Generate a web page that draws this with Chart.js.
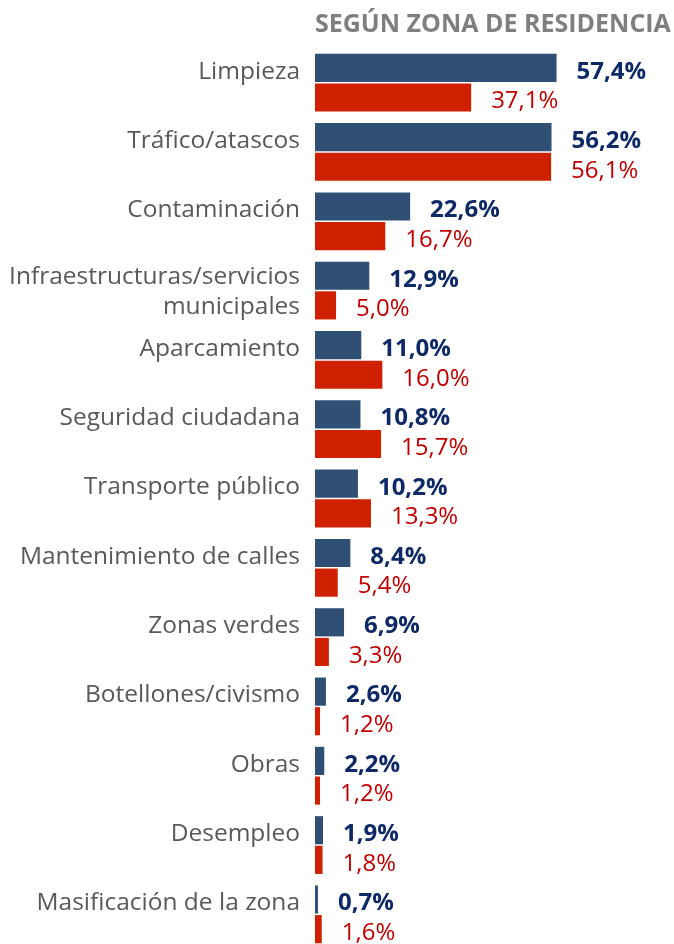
<!DOCTYPE html>
<html lang="es">
<head>
<meta charset="utf-8">
<title>Según zona de residencia</title>
<script src="https://cdn.jsdelivr.net/npm/chart.js@4/dist/chart.umd.min.js"></script>
<style>
    html, body { margin: 0; padding: 0; background: #fff; overflow: hidden; }
    #wrap { width: 674px; height: 950px; }
</style>
</head>
<body>
<div id="wrap"><canvas id="chart"></canvas></div>
<script>
// Problemas percibidos, dos grupos por zona de residencia (%)
const categories = [
    'Limpieza',
    'Tráfico/atascos',
    'Contaminación',
    ['Infraestructuras/servicios', 'municipales'],
    'Aparcamiento',
    'Seguridad ciudadana',
    'Transporte público',
    'Mantenimiento de calles',
    'Zonas verdes',
    'Botellones/civismo',
    'Obras',
    'Desempleo',
    'Masificación de la zona'
];
const blueValues = [57.4, 56.2, 22.6, 12.9, 11.0, 10.8, 10.2, 8.4, 6.9, 2.6, 2.2, 1.9, 0.7];
const redValues = [37.1, 56.1, 16.7, 5.0, 16.0, 15.7, 13.3, 5.4, 3.3, 1.2, 1.2, 1.8, 1.6];

const FONT = '"Open Sans", "DejaVu Sans", sans-serif';

// single-line labels get an empty second line so they sit near the upper bar
const tickLabels = categories.map(c => Array.isArray(c) ? c : [c, '']);

const fmt = v => v.toFixed(1).replace('.', ',') + '%';

// value labels next to each bar
const valueLabels = {
    id: 'valueLabels',
    afterDatasetsDraw(chart) {
        const ctx = chart.ctx;
        ctx.save();
        ctx.textAlign = 'left';
        ctx.textBaseline = 'middle';
        chart.data.datasets.forEach((ds, i) => {
            const meta = chart.getDatasetMeta(i);
            ctx.fillStyle = i === 0 ? '#0E2A66' : '#C00000';
            ctx.font = (i === 0 ? 'bold ' : '') + '24px ' + FONT;
            meta.data.forEach((bar, j) => {
                ctx.fillText(fmt(ds.data[j]), bar.x + 20, bar.y + 4);
            });
        });
        ctx.restore();
    }
};

new Chart(document.getElementById('chart'), {
    type: 'bar',
    data: {
        labels: tickLabels,
        datasets: [
            {
                data: blueValues,
                backgroundColor: '#2F5074',
                categoryPercentage: 0.855,
                barPercentage: 0.95
            },
            {
                data: redValues,
                backgroundColor: '#CF2100',
                categoryPercentage: 0.855,
                barPercentage: 0.95
            }
        ]
    },
    options: {
        indexAxis: 'y',
        responsive: true,
        maintainAspectRatio: false,
        animation: false,
        layout: { padding: { top: 0, right: 0, bottom: 1, left: 0 } },
        scales: {
            x: {
                display: false,
                min: 0,
                max: 85.3
            },
            y: {
                grid: { display: false, drawTicks: false },
                border: { display: false },
                afterFit(scale) {
                    scale.width = 315;
                    scale.paddingTop = 0;
                    scale.paddingBottom = 0;
                },
                ticks: {
                    color: '#595959',
                    padding: 15,
                    labelOffset: 1,
                    font: (c) => ({
                        family: FONT,
                        size: 24.5,
                        lineHeight: c.index === 3 ? '30px' : '24px'
                    })
                }
            }
        },
        plugins: {
            legend: { display: false },
            tooltip: { enabled: false },
            title: {
                display: true,
                text: 'SEGÚN ZONA DE RESIDENCIA',
                align: 'start',
                fullSize: false,
                color: '#7F7F7F',
                font: { family: FONT, size: 25, weight: 'bold', lineHeight: 1.2 },
                padding: { top: 10, bottom: 8 }
            }
        }
    },
    plugins: [valueLabels]
});
</script>
</body>
</html>
